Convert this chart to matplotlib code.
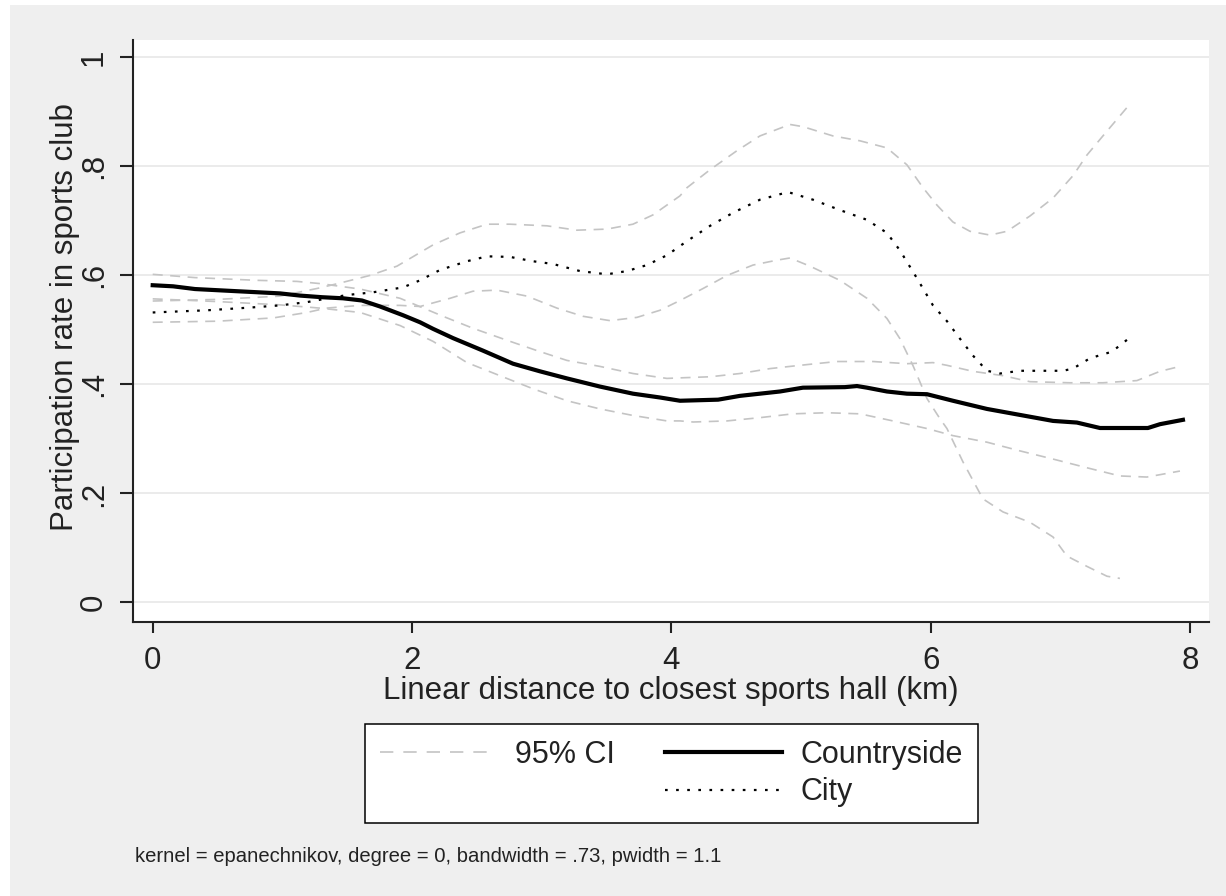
import matplotlib
matplotlib.use("Agg")
import matplotlib.pyplot as plt
from matplotlib.lines import Line2D
from matplotlib.patches import Rectangle

plt.rcParams['font.family'] = ['Liberation Sans', 'DejaVu Sans']

# --- local polynomial smooths: participation rate vs. distance (km) ---

# Countryside
land_x = [0.00, 0.157, 0.326, 0.650, 0.982, 1.136, 1.306, 1.468, 1.614, 1.753,
          1.930, 2.062, 2.162, 2.316, 2.547, 2.779, 2.987, 3.195, 3.450, 3.704,
          3.912, 4.067, 4.361, 4.530, 4.684, 4.838, 5.015, 5.339, 5.432, 5.509,
          5.663, 5.817, 5.972, 6.172, 6.434, 6.689, 6.944, 7.128, 7.306, 7.676,
          7.769, 7.946]
land_y = [.582, .580, .575, .571, .567, .563, .560, .558, .554, .543,
          .527, .514, .502, .485, .462, .438, .424, .411, .396, .383,
          .376, .370, .372, .379, .383, .387, .394, .395, .397, .394,
          .387, .383, .382, .370, .355, .344, .333, .330, .320, .320,
          .327, .335]

land_hi_x = [0.00, 0.326, 0.80, 1.113, 1.29, 1.60, 1.908, 2.239, 2.470, 2.732,
             2.964, 3.195, 3.450, 3.704, 3.966, 4.067, 4.299, 4.530, 4.761, 4.992,
             5.277, 5.555, 5.817, 6.018, 6.126, 6.326, 6.558, 6.766, 7.074, 7.329,
             7.591, 7.769, 7.923]
land_hi_y = [.602, .596, .591, .589, .585, .575, .558, .525, .503, .481,
             .462, .444, .433, .420, .411, .412, .414, .420, .429, .435,
             .442, .442, .438, .440, .435, .424, .416, .405, .403, .403,
             .407, .424, .433]

land_lo_x = [0.00, 0.50, 0.98, 1.29, 1.60, 1.908, 2.162, 2.424, 2.678, 2.933,
             3.195, 3.450, 3.704, 3.966, 4.067, 4.168, 4.430, 4.684, 4.938, 5.200,
             5.455, 5.709, 5.972, 6.172, 6.434, 6.689, 6.944, 7.206, 7.460, 7.668,
             7.923]
land_lo_y = [.557, .552, .546, .540, .532, .508, .479, .440, .416, .392,
             .370, .355, .343, .333, .333, .331, .333, .339, .346, .348,
             .346, .333, .319, .306, .294, .278, .263, .247, .232, .230,
             .241]

# City
city_x = [0.00, 0.419, 0.750, 0.982, 1.190, 1.306, 1.498, 1.699, 1.930, 2.062,
          2.216, 2.424, 2.578, 2.755, 2.933, 3.087, 3.295, 3.504, 3.658, 3.812,
          3.966, 4.121, 4.299, 4.476, 4.684, 4.900, 5.092, 5.300, 5.509, 5.663,
          5.763, 5.894, 6.018, 6.126, 6.226, 6.326, 6.434, 6.535, 6.689, 7.021,
          7.098, 7.229, 7.398, 7.537]
city_y = [.532, .536, .541, .545, .551, .556, .564, .569, .578, .591,
          .610, .626, .635, .634, .626, .621, .608, .602, .608, .619,
          .637, .663, .691, .715, .739, .753, .739, .720, .702, .678,
          .646, .595, .545, .516, .484, .453, .425, .420, .425, .425,
          .429, .448, .460, .486]

city_hi_x = [0.00, 0.50, 0.98, 1.267, 1.445, 1.676, 1.884, 2.162, 2.370, 2.578,
             2.755, 3.041, 3.272, 3.504, 3.704, 3.858, 4.067, 4.121, 4.299, 4.507,
             4.684, 4.915, 5.015, 5.246, 5.455, 5.663, 5.817, 5.941, 6.049, 6.172,
             6.303, 6.458, 6.589, 6.766, 6.944, 7.098, 7.206, 7.329, 7.514]
city_hi_y = [.553, .556, .562, .576, .586, .600, .617, .656, .678, .694,
             .694, .691, .683, .685, .694, .711, .746, .761, .794, .829,
             .856, .877, .873, .856, .847, .834, .803, .761, .729, .698,
             .681, .674, .681, .709, .742, .783, .821, .856, .908]

city_lo_x = [0.00, 0.50, 0.93, 1.19, 1.34, 1.60, 1.908, 2.062, 2.293, 2.470,
             2.655, 2.887, 3.118, 3.318, 3.527, 3.735, 3.912, 4.067, 4.245, 4.430,
             4.630, 4.815, 4.915, 5.069, 5.300, 5.509, 5.663, 5.763, 5.863, 5.972,
             6.072, 6.126, 6.249, 6.403, 6.558, 6.766, 6.944, 7.051, 7.206, 7.360,
             7.460]
city_lo_y = [.514, .516, .522, .532, .540, .545, .545, .543, .558, .571,
             .573, .562, .540, .525, .517, .523, .536, .554, .576, .600,
             .619, .628, .632, .617, .591, .558, .521, .484, .435, .374,
             .337, .319, .258, .190, .166, .147, .120, .085, .066, .048,
             .044]

x_ticks = [0, 2, 4, 6, 8]
y_ticks = [0, .2, .4, .6, .8, 1]
y_tick_labels = ['0', '.2', '.4', '.6', '.8', '1']

note = "kernel = epanechnikov, degree = 0, bandwidth = .73, pwidth = 1.1"

W, H = 1226, 896
fig = plt.figure(figsize=(W / 100, H / 100), dpi=100, facecolor='white')
# gray graph region
fig.patches.append(Rectangle((10 / W, 0), 1, 1 - 5 / H, transform=fig.transFigure,
                             facecolor='#efefef', edgecolor='none', zorder=-10))

ax = fig.add_axes([133 / W, 1 - 622 / H, (1209 - 133) / W, (622 - 40) / H])
ax.set_facecolor('white')

ci_color = '#c4c4c4'
ci_kw = dict(color=ci_color, lw=1.2, dashes=(6, 4.5))
ax.plot(land_hi_x, land_hi_y, **ci_kw)
ax.plot(land_lo_x, land_lo_y, **ci_kw)
ax.plot(city_hi_x, city_hi_y, **ci_kw)
ax.plot(city_lo_x, city_lo_y, **ci_kw)
ax.plot(land_x, land_y, color='black', lw=3)
ax.plot(city_x, city_y, color='black', lw=1.6, dashes=(1.2, 3.8))

ax.set_xlim(-0.152, 8.147)
ax.set_ylim(-0.036, 1.032)
ax.set_xticks(x_ticks)
ax.set_yticks(y_ticks)
ax.set_yticklabels(y_tick_labels, rotation=90, va='center')
ax.tick_params(axis='x', length=8, width=1.5, pad=9, labelsize=22.5, colors='#222222')
ax.tick_params(axis='y', length=9.5, width=1.5, pad=8, labelsize=22.5, colors='#222222')
ax.grid(axis='y', color='#e6e6e6', lw=1.1)
ax.set_axisbelow(True)
for side in ['top', 'right']:
    ax.spines[side].set_visible(False)
for side in ['left', 'bottom']:
    ax.spines[side].set_linewidth(1.5)
    ax.spines[side].set_color('#222222')

ax.set_xlabel('Linear distance to closest sports hall (km)', fontsize=22.5, color='#222222')
ax.xaxis.label.set_va('baseline')
ax.xaxis.set_label_coords(0.5, -(699 - 622) / (622 - 40))
ax.set_ylabel('Participation rate in sports club', fontsize=22.5, color='#222222')
ax.yaxis.set_label_coords(-(133 - 80) / (1209 - 133), (622 - 317.5) / (622 - 40))

handles = [
    Line2D([], [], color=ci_color, lw=1.2, dashes=(8, 6)),
    Line2D([], [], color='none'),
    Line2D([], [], color='black', lw=3),
    Line2D([], [], color='black', lw=1.6, dashes=(1.2, 3.8)),
]
labels = ['95% CI', '', 'Countryside', 'City']
leg = fig.legend(handles, labels, ncol=2, loc='center',
                 bbox_to_anchor=((363 + 980) / 2 / W, 1 - (724 + 823) / 2 / H),
                 fontsize=22, frameon=True, fancybox=False, shadow=False,
                 framealpha=1, handlelength=3.8, handletextpad=0.62,
                 columnspacing=1.65, borderpad=0.5, labelspacing=0.25,
                 borderaxespad=0)
leg.get_frame().set_edgecolor('black')
leg.get_frame().set_linewidth(1.1)
leg.get_frame().set_facecolor('white')
for t in leg.get_texts():
    t.set_color('#222222')

fig.text(135 / W, 1 - 862 / H, note, fontsize=14.6, va='baseline', ha='left',
         color='#222222')

fig.savefig('out.png', dpi=100, facecolor=fig.get_facecolor())
